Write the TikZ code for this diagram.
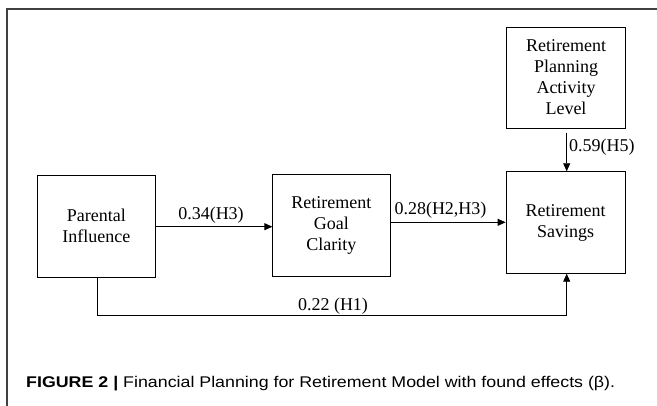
\documentclass[tikz,border=0pt]{standalone}
\usepackage{fontspec}
\setmainfont{Liberation Serif}
\newfontfamily\capfont{Liberation Sans}
\usetikzlibrary{arrows.meta}
\begin{document}
\begin{tikzpicture}[x=1pt,y=-1pt,
  box/.style={draw=black,line width=0.8pt,minimum width=#1,inner sep=0pt,align=center,font=\fontsize{18}{21}\selectfont},
  box/.default=118pt,
  lbl/.style={inner sep=0pt,font=\fontsize{18}{21}\selectfont},
  conn/.style={draw=black,line width=0.8pt},
  arr/.style={conn,-{Triangle[length=8pt,width=7pt]}}]
\useasboundingbox (0,0) rectangle (657,406);
% frame
\coordinate (ftr) at (657,9);
\coordinate (ftl) at (7,9);
\coordinate (fbl) at (7,406);
\draw[line width=1.2pt,draw=black!75] (ftr) -- (ftl) -- (fbl);
% boxes
\node[box=119pt,minimum height=101pt] (rpal) at (566,77.5) {Retirement\\Planning\\Activity\\Level};
\node[box=117.5pt,minimum height=102pt] (par) at (96.3,226) {Parental\\Influence};
\node[box=117.3pt,minimum height=102.4pt] (goal) at (331.4,225.5) {Retirement\\Goal\\Clarity};
\node[box=119pt,minimum height=101.6pt] (sav) at (565.5,222.5) {Retirement\\Savings};
% connectors
\draw[arr] (par.east |- 0,226.7) -- (goal.west |- 0,226.7);
\draw[arr] (goal.east |- 0,222.3) -- (sav.west |- 0,222.3);
\draw[arr] ([yshift=-4.5pt]rpal.south -| 566.7,0) -- (sav.north -| 566.7,0);
\coordinate (bl) at (97.3,315);
\coordinate (br) at (566.7,315);
\draw[arr] (par.south -| bl) -- (bl) -- (br) -- (sav.south -| br);
% labels
\node[lbl] (l1) at (211,215) {0.34(H3)};
\node[lbl] (l2) at (440.5,210.5) {0.28(H2,H3)};
\node[lbl] (l3) at (333,306.5) {0.22 (H1)};
\node[lbl,anchor=west] (l4) at (569,146.7) {0.59(H5)};
% caption
\node[inner sep=0pt,anchor=base west,font=\capfont\fontsize{15.5}{17}\selectfont] (cap) at (26,388) {\resizebox{589pt}{\height}{\textbf{FIGURE 2 |} Financial Planning for Retirement Model with found effects (β).}};
\end{tikzpicture}
\end{document}
